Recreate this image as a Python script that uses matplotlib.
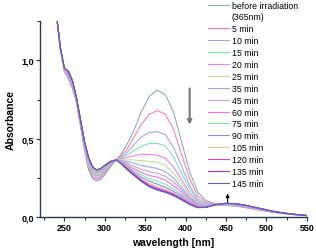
import matplotlib
matplotlib.use("Agg")
import matplotlib.pyplot as plt
from matplotlib.ticker import MultipleLocator, FuncFormatter

plt.rcParams['font.family'] = ['Liberation Sans', 'DejaVu Sans']

# wavelengths (nm)
wl = [240, 245, 250, 255, 260, 265, 270, 275, 280, 285, 290, 295, 300, 307,
      314, 320, 327, 335, 345, 355, 365, 375, 385, 395, 405, 415, 425, 437,
      450, 462, 475, 490, 510, 530, 550]

# absorbance per irradiation time
before = [1.30, 1.07, 0.93, 0.88, 0.82, 0.73, 0.58, 0.42, 0.30, 0.245, 0.23, 0.24, 0.27, 0.32,
          0.365, 0.40, 0.46, 0.54, 0.67, 0.77, 0.81, 0.78, 0.67, 0.48, 0.29, 0.16, 0.105, 0.085,
          0.075, 0.07, 0.06, 0.045, 0.03, 0.018, 0.01]
t5 = [1.30, 1.07, 0.93, 0.89, 0.83, 0.735, 0.585, 0.43, 0.31, 0.255, 0.24, 0.25, 0.28, 0.325,
      0.365, 0.39, 0.43, 0.50, 0.59, 0.655, 0.68, 0.655, 0.56, 0.40, 0.245, 0.135, 0.095, 0.08,
      0.075, 0.072, 0.062, 0.047, 0.03, 0.018, 0.01]
t10 = [1.30, 1.07, 0.94, 0.90, 0.84, 0.74, 0.59, 0.44, 0.325, 0.27, 0.25, 0.26, 0.29, 0.33,
       0.365, 0.38, 0.41, 0.455, 0.51, 0.54, 0.545, 0.525, 0.445, 0.325, 0.20, 0.115, 0.085, 0.077,
       0.076, 0.073, 0.064, 0.048, 0.03, 0.018, 0.01]
t15 = [1.30, 1.07, 0.94, 0.90, 0.84, 0.74, 0.595, 0.445, 0.33, 0.275, 0.26, 0.27, 0.295, 0.335,
       0.365, 0.375, 0.395, 0.42, 0.45, 0.47, 0.47, 0.455, 0.385, 0.28, 0.18, 0.105, 0.08, 0.076,
       0.078, 0.075, 0.066, 0.05, 0.031, 0.018, 0.01]
t20 = [1.30, 1.075, 0.94, 0.905, 0.845, 0.745, 0.60, 0.45, 0.34, 0.285, 0.265, 0.275, 0.30, 0.34,
       0.365, 0.37, 0.38, 0.39, 0.40, 0.40, 0.395, 0.375, 0.32, 0.24, 0.155, 0.095, 0.075, 0.076,
       0.08, 0.077, 0.067, 0.051, 0.031, 0.018, 0.01]
t25 = [1.30, 1.075, 0.94, 0.91, 0.85, 0.745, 0.60, 0.455, 0.345, 0.29, 0.27, 0.28, 0.305, 0.34,
       0.365, 0.365, 0.365, 0.365, 0.36, 0.355, 0.35, 0.33, 0.28, 0.215, 0.145, 0.09, 0.072, 0.077,
       0.081, 0.078, 0.068, 0.052, 0.032, 0.019, 0.01]
t35 = [1.30, 1.075, 0.945, 0.915, 0.855, 0.75, 0.605, 0.46, 0.355, 0.30, 0.28, 0.29, 0.31, 0.345,
       0.365, 0.36, 0.355, 0.345, 0.33, 0.32, 0.31, 0.29, 0.25, 0.19, 0.13, 0.085, 0.07, 0.077,
       0.082, 0.079, 0.069, 0.053, 0.032, 0.019, 0.01]
t45 = [1.30, 1.075, 0.945, 0.915, 0.855, 0.75, 0.61, 0.465, 0.36, 0.30, 0.28, 0.29, 0.315, 0.345,
       0.365, 0.355, 0.345, 0.325, 0.305, 0.29, 0.28, 0.26, 0.225, 0.175, 0.12, 0.08, 0.068, 0.078,
       0.083, 0.08, 0.07, 0.054, 0.033, 0.019, 0.01]
t60 = [1.30, 1.08, 0.945, 0.92, 0.86, 0.755, 0.61, 0.47, 0.365, 0.31, 0.29, 0.30, 0.32, 0.35,
       0.365, 0.352, 0.335, 0.31, 0.285, 0.265, 0.255, 0.235, 0.20, 0.16, 0.11, 0.075, 0.066, 0.078,
       0.084, 0.081, 0.071, 0.055, 0.033, 0.019, 0.01]
t75 = [1.30, 1.08, 0.95, 0.925, 0.865, 0.755, 0.615, 0.47, 0.37, 0.31, 0.29, 0.30, 0.32, 0.35,
       0.365, 0.35, 0.33, 0.30, 0.27, 0.245, 0.23, 0.21, 0.18, 0.145, 0.10, 0.07, 0.065, 0.078,
       0.085, 0.082, 0.072, 0.056, 0.034, 0.02, 0.01]
t90 = [1.30, 1.08, 0.95, 0.925, 0.865, 0.76, 0.615, 0.475, 0.37, 0.315, 0.295, 0.305, 0.325, 0.35,
       0.365, 0.348, 0.325, 0.29, 0.255, 0.23, 0.21, 0.19, 0.165, 0.135, 0.095, 0.068, 0.064, 0.079,
       0.086, 0.083, 0.073, 0.056, 0.034, 0.02, 0.01]
t105 = [1.30, 1.08, 0.95, 0.93, 0.87, 0.76, 0.62, 0.475, 0.375, 0.315, 0.295, 0.305, 0.325, 0.355,
        0.365, 0.346, 0.32, 0.285, 0.245, 0.215, 0.195, 0.178, 0.155, 0.125, 0.09, 0.066, 0.063, 0.079,
        0.087, 0.084, 0.074, 0.057, 0.034, 0.02, 0.01]
t120 = [1.30, 1.08, 0.95, 0.93, 0.87, 0.76, 0.62, 0.48, 0.375, 0.32, 0.30, 0.31, 0.33, 0.355,
        0.365, 0.344, 0.315, 0.28, 0.238, 0.205, 0.185, 0.168, 0.148, 0.12, 0.087, 0.064, 0.062, 0.079,
        0.088, 0.085, 0.074, 0.057, 0.035, 0.02, 0.01]
t135 = [1.30, 1.08, 0.95, 0.93, 0.87, 0.76, 0.62, 0.48, 0.38, 0.32, 0.30, 0.31, 0.33, 0.355,
        0.365, 0.342, 0.31, 0.275, 0.232, 0.198, 0.178, 0.162, 0.142, 0.115, 0.083, 0.062, 0.062, 0.08,
        0.088, 0.085, 0.075, 0.058, 0.035, 0.02, 0.01]
t145 = [1.30, 1.08, 0.95, 0.93, 0.87, 0.76, 0.62, 0.48, 0.38, 0.32, 0.30, 0.31, 0.33, 0.355,
        0.365, 0.34, 0.305, 0.27, 0.228, 0.193, 0.172, 0.157, 0.137, 0.11, 0.08, 0.06, 0.062, 0.08,
        0.089, 0.086, 0.075, 0.058, 0.035, 0.02, 0.01]

series = [before, t5, t10, t15, t20, t25, t35, t45, t60, t75, t90, t105, t120, t135, t145]
labels = ['before irradiation', '5 min', '10 min', '15 min', '20 min', '25 min', '35 min',
          '45 min', '60 min', '75 min', '90 min', '105 min', '120 min', '135 min', '145 min']
colors = ['#8fadb5', '#ff80b0', '#a0a8f0', '#80e0b8', '#f080f0', '#c0e098', '#98a8f0',
          '#c8a0c8', '#f070f0', '#80e8a0', '#8c8cf4', '#f0c890', '#e040d8', '#9838d0', '#5a64b0']


def main():
    fig = plt.figure(figsize=(3.16, 2.51), dpi=100)
    ax = fig.add_axes([0.127, 0.131, 0.844, 0.781])

    handles = []
    for i, (ys, lab, c) in enumerate(zip(series, labels, colors)):
        h, = ax.plot(wl, ys, color=c, linewidth=0.8, label=lab)
        handles.append(h)
        if i == 0:
            # second line of the first legend label
            e, = ax.plot([], [], color='none', label='(365nm)')
            handles.append(e)

    ax.set_xlim(220, 550)
    ax.set_ylim(0, 1.25)
    ax.xaxis.set_major_locator(MultipleLocator(50))
    ax.xaxis.set_minor_locator(MultipleLocator(25))
    ax.yaxis.set_major_locator(MultipleLocator(0.5))
    ax.yaxis.set_minor_locator(MultipleLocator(0.25))
    ax.yaxis.set_major_formatter(FuncFormatter(lambda v, p: f'{v:.1f}'.replace('.', ',')))

    for s in ['top', 'right']:
        ax.spines[s].set_visible(False)
    for s in ['left', 'bottom']:
        ax.spines[s].set_color('#2a3a44')
        ax.spines[s].set_linewidth(1.0)
    ax.tick_params(which='major', direction='out', length=3, width=0.9, labelsize=6.5,
                   colors='#2a3a44', labelcolor='black', pad=1.5)
    ax.tick_params(which='minor', direction='out', length=2, width=0.8, colors='#2a3a44')
    for t in ax.get_xticklabels() + ax.get_yticklabels():
        t.set_fontweight('bold')

    ax.set_xlabel('wavelength [nm]', fontsize=7.5, fontweight='bold', labelpad=3)
    ax.set_ylabel('Absorbance', fontsize=7.5, fontweight='bold', labelpad=4)

    # arrows showing the change with irradiation time
    ax.annotate('', xy=(405, 0.59), xytext=(405, 0.82),
                arrowprops=dict(arrowstyle='-|>', color='#777777', lw=1.5, mutation_scale=6,
                                shrinkA=0, shrinkB=0))
    ax.annotate('', xy=(452, 0.15), xytext=(452, 0.095),
                arrowprops=dict(arrowstyle='-|>', color='black', lw=0.8, mutation_scale=5,
                                shrinkA=0, shrinkB=0))

    fig.legend(handles=handles, loc='upper left', bbox_to_anchor=(0.638, 1.018),
               frameon=False, fontsize=6.3, handlelength=2.4, handletextpad=0.35,
               labelspacing=0.33, borderpad=0.2)

    fig.savefig('out.png', dpi=100)


main()
